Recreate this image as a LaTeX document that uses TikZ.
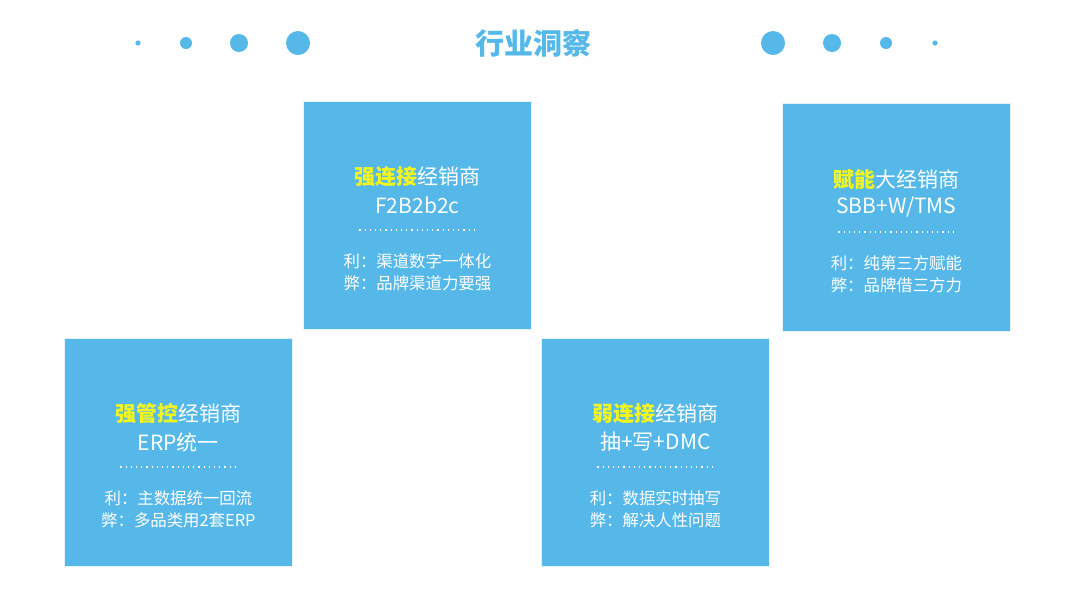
\documentclass[tikz,border=0pt]{standalone}
\usepackage{fontspec}
\setmainfont{Noto Sans CJK SC}
\newfontfamily\cjk{Noto Sans CJK SC}
\usetikzlibrary{positioning}
\usetikzlibrary{calc}
\definecolor{skyblue}{HTML}{55B8E8}
\definecolor{hiyellow}{HTML}{F2F51E}
\tikzstyle{card}  = [fill=skyblue,draw=white!85!skyblue,minimum width=114pt,minimum height=114pt,inner sep=0]
\tikzstyle{head}  = [text=white,font=\cjk\fontsize{10.5}{12}\selectfont,inner sep=0]
\tikzstyle{body}  = [text=white,font=\cjk\fontsize{8.2}{10}\selectfont,inner sep=0]
\tikzstyle{dot}   = [circle,fill=skyblue,inner sep=0]
% one insight card: name, left x, top y, highlight, rest, subtitle, pro, con
\newcommand{\insight}[8]{
    \node(#1)[card,anchor=north west] at (#2,#3) {};
    \node(#1h)[head] at ($(#1.north)+(0,76)$) {\textcolor{hiyellow}{\bfseries#4}#5};
    \node(#1s)[head] at ($(#1.north)+(0,104)$) {#6};
    \draw[white,line width=0.6pt,dotted] ($(#1.north)+(-58,129)$) -- ($(#1.north)+(58,129)$);
    \node(#1p)[body] at ($(#1.north)+(0,160)$) {利：#7};
    \node(#1c)[body] at ($(#1.north)+(0,182)$) {弊：#8};
}

\begin{document}
\begin{tikzpicture}[x=0.5pt,y=-0.5pt]

    \useasboundingbox (0,0) rectangle (1080,601);

    % title with dots
    \node(title)[text=skyblue,font=\cjk\bfseries\fontsize{14.5}{16}\selectfont] at (533,43) {行业洞察};
    \foreach \x/\r [count=\i] in {138/2.6,186/6,239/9,298/12,773/12,832/9,886/6,935/2.6}
        \node(d\i)[dot,minimum size=\r pt] at (\x,43) {};

    % cards
    \insight{manage}{64}{338}{强管控}{经销商}{ERP统一}{主数据统一回流}{多品类用2套ERP}
    \insight{strong}{303}{101}{强连接}{经销商}{F2B2b2c}{渠道数字一体化}{品牌渠道力要强}
    \insight{weak}{541}{338}{弱连接}{经销商}{抽+写+DMC}{数据实时抽写}{解决人性问题}
    \insight{enable}{782}{103}{赋能}{大经销商}{SBB+W/TMS}{纯第三方赋能}{品牌借三方力}

\end{tikzpicture}
\end{document}
